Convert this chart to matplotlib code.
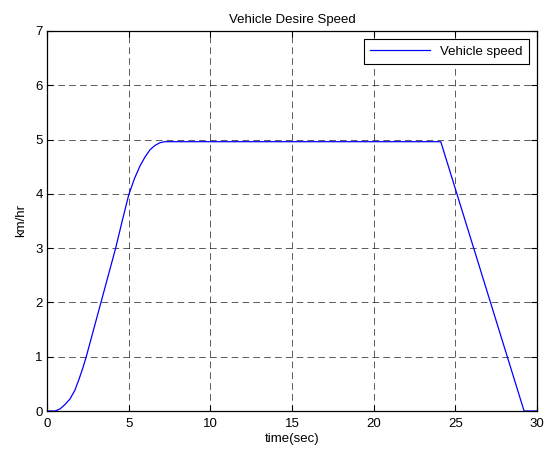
import numpy as np
import matplotlib
matplotlib.use("Agg")
import matplotlib.pyplot as plt

# values
time_sec = [0, 0.5, 0.8, 1.1, 1.4, 1.7, 1.95, 2.2, 2.4, 2.85, 3.3, 3.75, 4.2, 4.6, 5.0,
            5.35, 5.7, 6.0, 6.3, 6.6, 6.9, 7.2, 24.1, 29.2, 30]
speed_kmh = [0, 0, 0.04, 0.12, 0.22, 0.38, 0.58, 0.8, 1.0, 1.5, 2.0, 2.5, 3.0, 3.5, 3.98,
             4.28, 4.52, 4.68, 4.81, 4.89, 4.94, 4.96, 4.96, 0, 0]
xticks = [0, 5, 10, 15, 20, 25, 30]
yticks = [0, 1, 2, 3, 4, 5, 6, 7]

plt.rcParams["font.family"] = ["Liberation Sans", "DejaVu Sans"]
plt.rcParams["font.size"] = 9.5

fig = plt.figure(figsize=(5.47, 4.53), dpi=100)
ax = fig.add_axes([0.086, 0.0927, 0.896, 0.839])

ax.plot(time_sec, speed_kmh, color="#0000ff", linewidth=0.9, label="Vehicle speed")

ax.set_xlim(0, 30)
ax.set_ylim(0, 7)
ax.set_xticks(xticks)
ax.set_yticks(yticks)
ax.tick_params(direction="in", top=True, right=True, length=4, width=0.8, pad=3)
ax.tick_params(axis="x", pad=5)
ax.grid(True, color="black", linestyle=(0, (8, 5)), linewidth=0.6, alpha=0.75)
for s in ax.spines.values():
    s.set_linewidth(0.9)

ax.set_title("Vehicle Desire Speed", fontsize=9.5, pad=6)
ax.set_xlabel("time(sec)", labelpad=2)
ax.set_ylabel("km/hr", labelpad=6)

leg = ax.legend(loc="upper right", fancybox=False, framealpha=1, edgecolor="black",
                handlelength=4.5, borderpad=0.5, borderaxespad=0.6, fontsize=9.5)
leg.get_frame().set_linewidth(0.8)

fig.savefig("out.png", dpi=100)
